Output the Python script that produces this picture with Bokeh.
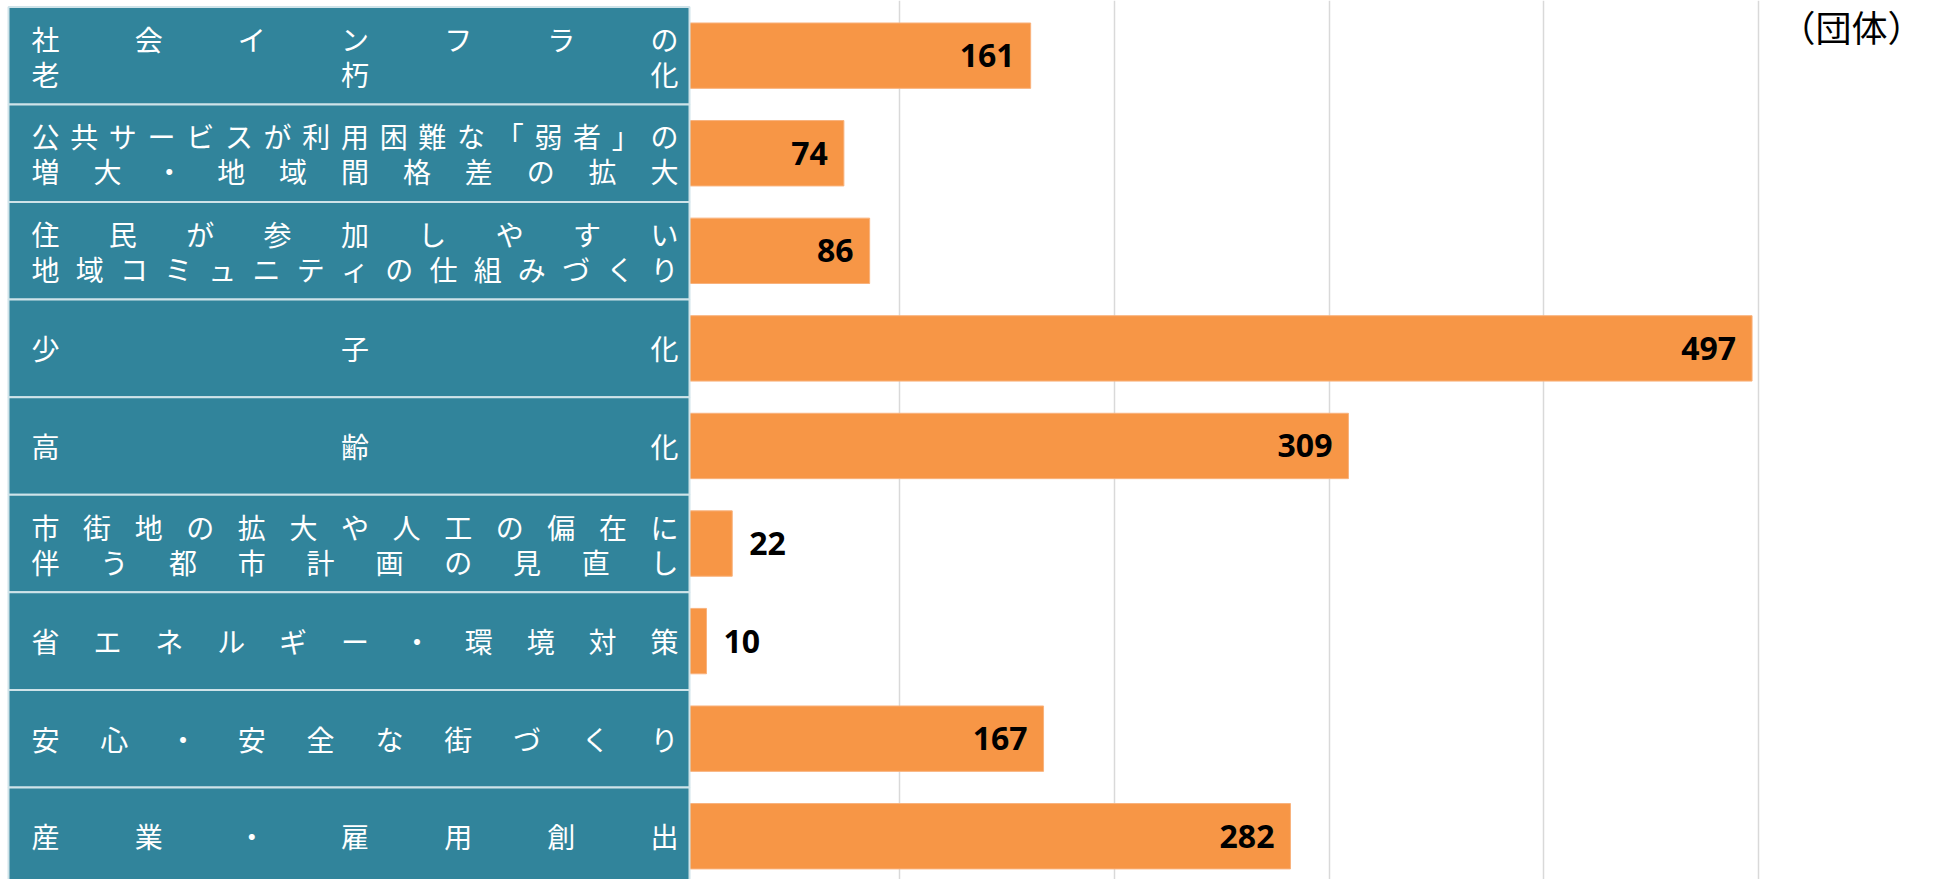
from bokeh.plotting import figure
from bokeh.models import Range1d, ColumnDataSource, FixedTicker, Label
from bokeh.core.properties import value
from bokeh.embed import file_html
from bokeh.resources import INLINE

# ---- data ----
categories = [
    "社会インフラの\n老朽化",
    "公共サービスが利用困難な「弱者」の\n増大・地域間格差の拡大",
    "住民が参加しやすい\n地域コミュニティの仕組みづくり",
    "少子化",
    "高齢化",
    "市街地の拡大や人工の偏在に\n伴う都市計画の見直し",
    "省エネルギー・環境対策",
    "安心・安全な街づくり",
    "産業・雇用創出",
]
counts = [161, 74, 86, 497, 309, 22, 10, 167, 282]
grid_ticks = [100, 200, 300, 400, 500]
unit_label = "（団体）"

# ---- layout constants ----
W, H = 1933, 879
PPU = 2.147                   # pixels per data unit (x)
ZERO_PX = 684.5               # screen x of value 0
X0 = -ZERO_PX / PPU
X1 = X0 + W / PPU
ROW_PX = 97.57                # pixels per row
ROW_TOP_PX = 6.4              # screen y of first row top
Y_TOP = -0.5 - ROW_TOP_PX / ROW_PX
Y_BOT = Y_TOP + H / ROW_PX
PANEL_LEFT = X0 + 8 / PPU
PANEL_RIGHT = X0 + 689 / PPU
TEAL = "#31849B"
ORANGE = "#F79646"
JP_FONT = "Noto Sans CJK JP"

p = figure(width=W, height=H, output_backend="svg", toolbar_location=None,
           x_range=Range1d(X0, X1), y_range=Range1d(Y_BOT, Y_TOP),
           x_axis_location=None, y_axis_location=None,
           min_border=0, outline_line_color=None,
           background_fill_color="white", border_fill_color="white")
p.xgrid.ticker = FixedTicker(ticks=grid_ticks)
p.xgrid.grid_line_color = "#d9d9d9"
p.xgrid.grid_line_width = 1.5
p.ygrid.visible = False

idx = list(range(len(categories)))
src = ColumnDataSource(dict(idx=idx, count=counts))

# bars
p.hbar(y="idx", left=0, right="count", height=0.67, source=src,
       fill_color=ORANGE, line_color="#F9B27C", line_width=1)

# label panel
p.quad(left=[PANEL_LEFT] * len(idx), right=[PANEL_RIGHT] * len(idx),
       top=[i - 0.5 for i in idx], bottom=[i + 0.5 for i in idx],
       fill_color=TEAL, line_color="#cfe3e9", line_width=2)

# distributed characters in the panel
cx, cy, ch = [], [], []
first_px, last_px = 45, 664
for i, cat in enumerate(categories):
    lines = cat.split("\n")
    offs = [0] if len(lines) == 1 else [-17, 18]
    for line, off in zip(lines, offs):
        n = len(line)
        for j, c in enumerate(line):
            px = first_px + j * (last_px - first_px) / (n - 1) if n > 1 else first_px
            cx.append(X0 + px / PPU)
            cy.append(i + off / ROW_PX)
            ch.append(c)
p.text(x=cx, y=cy, text=ch, text_color="white", text_align="center",
       text_baseline="middle", text_font=value(JP_FONT), text_font_size="28px")

# value labels
inside = [k for k in idx if counts[k] >= 50]
outside = [k for k in idx if counts[k] < 50]
p.text(x=[counts[k] - 16 / PPU for k in inside], y=inside,
       text=[str(counts[k]) for k in inside], text_align="right",
       text_baseline="middle", text_font=value("Open Sans"),
       text_font_style="bold", text_font_size="32px", text_color="black")
p.text(x=[counts[k] + 17 / PPU for k in outside], y=outside,
       text=[str(counts[k]) for k in outside], text_align="left",
       text_baseline="middle", text_font=value("Open Sans"),
       text_font_style="bold", text_font_size="32px", text_color="black")

p.add_layout(Label(x=X1, y=Y_TOP + 25 / ROW_PX, x_offset=-10, y_offset=0, text=unit_label,
                   text_align="right", text_baseline="middle",
                   text_font=JP_FONT, text_font_size="36px", text_color="black"))

open("out.html", "w").write(file_html(p, INLINE))
